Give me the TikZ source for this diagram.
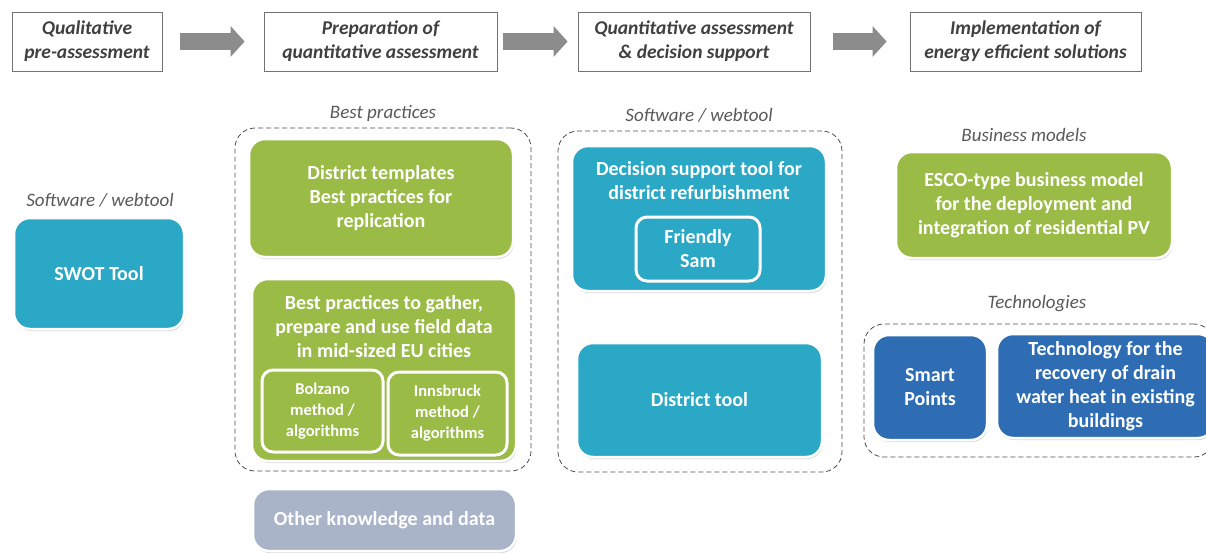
\documentclass[tikz,border=0pt]{standalone}
\usepackage{fontspec}
\setmainfont{Carlito}
\usepackage{tikz}
\usetikzlibrary{shapes,arrows.meta,positioning,shadows}
\definecolor{tealbox}{RGB}{42,168,198}
\definecolor{greenbox}{RGB}{155,187,71}
\definecolor{bluebox}{RGB}{46,109,180}
\definecolor{greybox}{RGB}{169,180,200}
\definecolor{headtext}{RGB}{64,64,64}
\definecolor{labeltext}{RGB}{89,89,89}
\tikzstyle{phase} = [rectangle, draw=black!55, fill=white, line width=0.8pt,
   font=\fontsize{19.5}{24}\selectfont\bfseries\itshape, text=headtext, align=center]
\tikzstyle{flow} = [draw=black!45, line width=17pt, -{Triangle[length=14pt,width=30pt]}]
\tikzstyle{group} = [rectangle, draw=black!70, dashed, dash pattern=on 5pt off 3pt,
   rounded corners=20pt, line width=0.8pt]
\tikzstyle{tool} = [rectangle, rounded corners=16pt, draw=white, line width=2.5pt,
   text=white, align=center, font=\fontsize{20}{24}\selectfont\bfseries,
   drop shadow={opacity=0.3, shadow xshift=1pt, shadow yshift=-2pt}]
\tikzstyle{subtool} = [tool, rounded corners=11pt, line width=3pt, font=\fontsize{16.5}{21}\selectfont\bfseries]
\tikzstyle{boxtext} = [text=white, align=center, font=\fontsize{20}{24}\selectfont\bfseries]
\tikzstyle{caption} = [font=\fontsize{19}{22}\selectfont\itshape, text=labeltext]

\begin{document}
\begin{tikzpicture}[x=1pt, y=-1pt]
\useasboundingbox (0,0) rectangle (1206,552);

% phases along the top
\node (qual) [phase, minimum width=150pt, minimum height=59pt] at (87,41.5) {Qualitative\\ pre-assessment};
\node (prep) [phase, minimum width=233pt, minimum height=59pt] at (380.5,41.5) {Preparation of\\ quantitative assessment};
\node (quant) [phase, minimum width=232pt, minimum height=59pt] at (694,41.5) {Quantitative assessment\\ \& decision support};
\node (impl) [phase, minimum width=231pt, minimum height=59pt] at (1025.5,41.5) {Implementation of\\ energy efficient solutions};

\draw [flow] ([xshift=18pt]qual.east) -- ([xshift=-19pt]prep.west);
\draw [flow] ([xshift=6pt]prep.east) -- ([xshift=-10pt]quant.west);
\draw [flow] ([xshift=23pt]quant.east) -- ([xshift=-23pt]impl.west);

% dashed groups
\node (bestgrp) [group, minimum width=296pt, minimum height=343pt] at (383,299.5) {};
\node (softgrp) [group, minimum width=284pt, minimum height=341pt] at (700,301.5) {};
\node (techgrp) [group, minimum width=350pt, minimum height=133pt] at (1039,390.5) {};

\node (lblswot) [caption] at (100,200) {Software / webtool};
\node (lblbest) [caption] at (383,113) {Best practices};
\node (lblsoft) [caption] at (699,115) {Software / webtool};
\node (lblbiz) [caption] at (1024,135) {Business models};
\node (lbltech) [caption] at (1037,304) {Technologies};

% qualitative pre-assessment
\node (swot) [tool, fill=tealbox, minimum width=170pt, minimum height=111pt] at (99,273.5) {SWOT Tool};

% preparation
\node (templ) [tool, fill=greenbox, minimum width=264pt, minimum height=118pt] at (381,198) {District templates\\ Best practices for\\ replication};
\node (gather) [tool, fill=greenbox, minimum width=264pt, minimum height=182pt] at (384,370) {};
\node (gathertxt) [boxtext] at (384,327) {Best practices to gather,\\ prepare and use field data\\ in mid-sized EU cities};
\node (bolzano) [subtool, fill=greenbox, minimum width=121pt, minimum height=82pt] at (322.5,411) {Bolzano\\ method /\\ algorithms};
\node (innsbruck) [subtool, fill=greenbox, minimum width=119pt, minimum height=83pt] at (447.5,413.5) {Innsbruck\\ method /\\ algorithms};
\node (other) [tool, fill=greybox, minimum width=263pt, minimum height=62pt] at (384.5,520) {Other knowledge and data};

% quantitative assessment
\node (decision) [tool, fill=tealbox, minimum width=254pt, minimum height=145pt] at (699,218.5) {};
\node (decisiontxt) [boxtext] at (699,181) {Decision support tool for\\ district refurbishment};
\node (friendly) [subtool, fill=tealbox, minimum width=124pt, minimum height=64pt, font=\fontsize{20}{24}\selectfont\bfseries] at (698,249) {Friendly\\ Sam};
\node (district) [tool, fill=tealbox, minimum width=245pt, minimum height=114pt] at (699.5,400) {District tool};

% implementation
\node (esco) [tool, fill=greenbox, minimum width=276pt, minimum height=106pt] at (1034,205) {ESCO-type business model\\ for the deployment and\\ integration of residential PV};
\node (smart) [tool, fill=bluebox, minimum width=114pt, minimum height=105pt] at (930,387.5) {Smart\\ Points};
\node (drain) [tool, fill=bluebox, minimum width=217pt, minimum height=104pt] at (1105.5,386) {Technology for the\\ recovery of drain\\ water heat in existing\\ buildings};

\end{tikzpicture}
\end{document}
